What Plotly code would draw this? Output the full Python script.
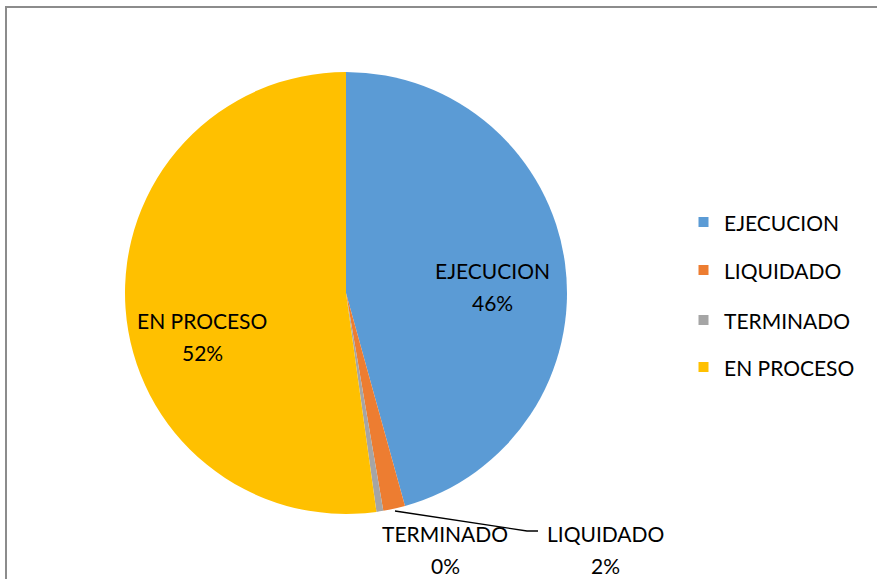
import plotly.graph_objects as go

labels = ["EJECUCION", "LIQUIDADO", "TERMINADO", "EN PROCESO"]
values = [45.7, 1.6, 0.5, 52.2]
colors = ["#5B9BD5", "#ED7D31", "#A5A5A5", "#FFC000"]

W, H = 877, 579
FONT = "Lato, 'Open Sans', sans-serif"
FS = 21

def px(x):
    return x / W

def py(y):
    return 1 - y / H

fig = go.Figure(go.Pie(
    labels=labels, values=values, sort=False, direction="clockwise", rotation=0,
    marker=dict(colors=colors, line=dict(width=0)),
    textinfo="none", hoverinfo="label+percent", showlegend=False,
    domain=dict(x=[px(124), px(568)], y=[py(514), py(72)]),
))

total = sum(values)
pct = [f"{round(v / total * 100):d}%" for v in values]

# data label positions (pixel)
label_pos = {0: (492, 270), 3: (202, 320), 2: (445, 533), 1: (605, 533)}
ann = []
for i, (x, y) in label_pos.items():
    ann.append(dict(x=px(x), y=py(y), xref="paper", yref="paper", text=labels[i],
                    showarrow=False, font=dict(family=FONT, size=FS, color="#000"),
                    xanchor="center", yanchor="middle"))
    ann.append(dict(x=px(x), y=py(y + 32), xref="paper", yref="paper", text=pct[i],
                    showarrow=False, font=dict(family=FONT, size=FS, color="#000"),
                    xanchor="center", yanchor="middle"))

shapes = [
    dict(type="rect", xref="paper", yref="paper", x0=px(6), y0=py(H + 20), x1=px(W + 20), y1=py(7),
         line=dict(color="#8C8C8C", width=2), fillcolor="rgba(0,0,0,0)", layer="below"),
    dict(type="path", xref="paper", yref="paper",
         path=f"M {px(395)} {py(511)} L {px(527)} {py(531)} L {px(538)} {py(531)}",
         line=dict(color="#000", width=1.3)),
]

# manual legend
leg_y = [222, 270, 320, 367]
for i, y in enumerate(leg_y):
    shapes.append(dict(type="rect", xref="paper", yref="paper", x0=px(698.5), x1=px(708.5),
                       y0=py(y + 5), y1=py(y - 5), fillcolor=colors[i], line=dict(width=0)))
    ann.append(dict(x=px(722), y=py(y), xref="paper", yref="paper", text=labels[i],
                    showarrow=False, font=dict(family=FONT, size=FS, color="#000"),
                    xanchor="left", yanchor="middle"))

fig.update_layout(width=W, height=H, margin=dict(l=0, r=0, t=0, b=0),
                  paper_bgcolor="white", plot_bgcolor="white",
                  annotations=ann, shapes=shapes, showlegend=False)
fig.write_html("out.html", config={"displayModeBar": False},
               post_script="document.body.style.margin='0';document.body.style.overflow='hidden';")
